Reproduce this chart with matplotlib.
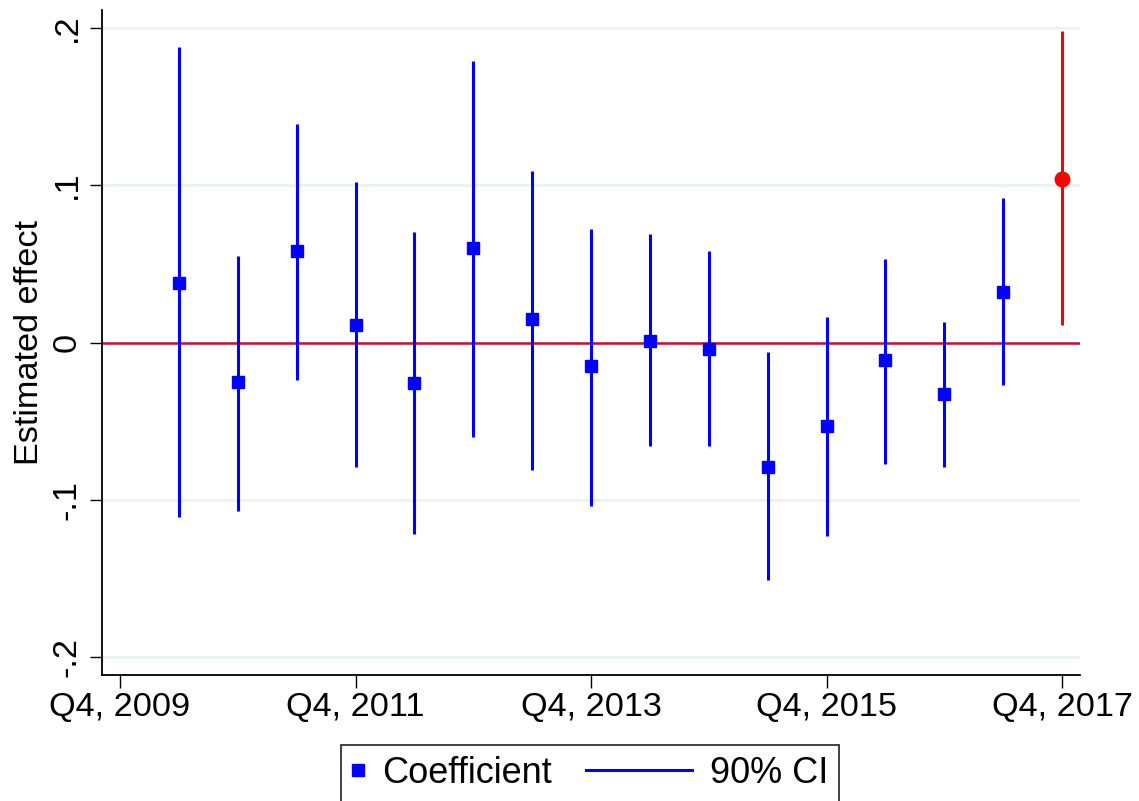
import numpy as np
import matplotlib.pyplot as plt
from matplotlib.lines import Line2D
from matplotlib.legend_handler import HandlerLine2D

plt.rcParams['font.family'] = ['Liberation Sans', 'DejaVu Sans']

# semi-annual periods (quarters after Q4 2009)
periods = ["Q2, 2010", "Q4, 2010", "Q2, 2011", "Q4, 2011", "Q2, 2012", "Q4, 2012",
           "Q2, 2013", "Q4, 2013", "Q2, 2014", "Q4, 2014", "Q2, 2015", "Q4, 2015",
           "Q2, 2016", "Q4, 2016", "Q2, 2017"]
coef = [0.038, -0.025, 0.058, 0.011, -0.026, 0.060, 0.015, -0.015, 0.001,
        -0.004, -0.079, -0.053, -0.011, -0.033, 0.032]
ci_lo = [-0.111, -0.107, -0.024, -0.079, -0.122, -0.060, -0.081, -0.104, -0.066,
         -0.066, -0.151, -0.123, -0.077, -0.079, -0.027]
ci_hi = [0.188, 0.055, 0.139, 0.102, 0.070, 0.179, 0.109, 0.072, 0.069,
         0.058, -0.006, 0.016, 0.053, 0.013, 0.092]

# final period, highlighted
last_period = "Q4, 2017"
last_coef = 0.104
last_lo = 0.011
last_hi = 0.198

xtick_labels = ["Q4, 2009", "Q4, 2011", "Q4, 2013", "Q4, 2015", "Q4, 2017"]
yticks = [-0.2, -0.1, 0, 0.1, 0.2]
ytick_labels = ["-.2", "-.1", "0", ".1", ".2"]

x = np.arange(1, len(periods) + 1) * 2  # quarters since Q4 2009
x_last = (len(periods) + 1) * 2

FS = 24.7
FS_LEG = 26


class LongLine(HandlerLine2D):
    # line handle that reaches further left than the (short) handle box
    def create_artists(self, legend, orig_handle, xdescent, ydescent,
                       width, height, fontsize, trans):
        y = height / 2 - ydescent
        x1 = width - xdescent
        ln = Line2D([x1 - 2.94 * fontsize, x1], [y, y],
                    color=orig_handle.get_color(), lw=orig_handle.get_linewidth())
        ln.set_transform(trans)
        return [ln]


fig = plt.figure(figsize=(11.39, 8.01), dpi=100)
ax = fig.add_axes([0.0896, 0.1573, 0.8586, 0.8302])

for y in yticks:
    ax.axhline(y, color='#eaf2f3', lw=2.2, zorder=0)
ax.axhline(0, color='#c8102e', lw=1.8, zorder=1)

ax.vlines(x, ci_lo, ci_hi, color='#0000ff', lw=2.2, zorder=2)
ax.plot(x, coef, 's', color='#0000ff', ms=9, zorder=3)
ax.vlines([x_last], [last_lo], [last_hi], color='#ff0000', lw=2.2, zorder=2)
ax.plot([x_last], [last_coef], 'o', color='#ff0000', ms=10.5, zorder=3)

ax.set_xlim(-0.61, 32.61)
ax.set_ylim(-0.2114, 0.2114)
ax.set_xticks(np.arange(len(xtick_labels)) * 8)
ax.set_xticklabels(xtick_labels, fontsize=FS)
ax.set_yticks(yticks)
ax.set_yticklabels(ytick_labels, fontsize=FS, rotation=90, va='center')
ax.tick_params(axis='both', length=9, width=1, direction='out')
ax.tick_params(axis='x', pad=3)
ax.tick_params(axis='y', pad=5)
ax.set_ylabel("Estimated effect", fontsize=FS, labelpad=5)
for s in ['top', 'right']:
    ax.spines[s].set_visible(False)
for s in ['left', 'bottom']:
    ax.spines[s].set_linewidth(1.3)

h_coef = Line2D([], [], marker='s', ls='none', color='#0000ff', ms=8)
h_ci = Line2D([], [], color='#0000ff', lw=2.2)
leg = fig.legend([h_coef, h_ci], ["Coefficient", "90% CI"], ncol=2, fontsize=FS_LEG,
                 loc='upper center', bbox_to_anchor=(0.518, 0.0699),
                 frameon=True, fancybox=False, edgecolor='black',
                 handlelength=0.33, handletextpad=0.5, columnspacing=3.55,
                 borderpad=0.3, borderaxespad=0, handler_map={h_ci: LongLine()})
leg.get_frame().set_linewidth(1.3)

fig.savefig('out.png', dpi=100)
